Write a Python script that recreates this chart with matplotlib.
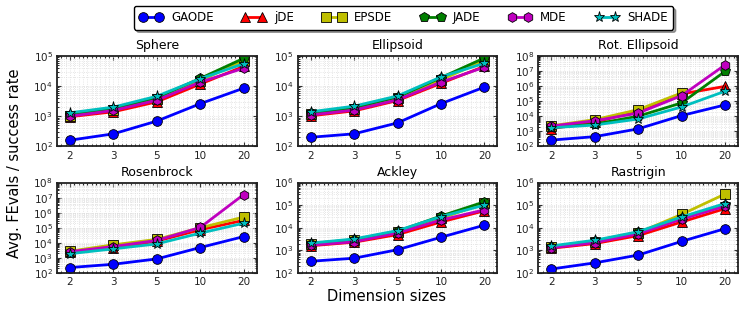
import numpy as np
import matplotlib
matplotlib.use("Agg")
import matplotlib.pyplot as plt
from matplotlib.ticker import LogLocator, MultipleLocator, NullFormatter

# Benchmarks, dimensions and the measured curves (Avg. FEvals / success rate)
functions = ["Sphere", "Ellipsoid", "Rot. Ellipsoid", "Rosenbrock", "Ackley", "Rastrigin"]
dims = ["2", "3", "5", "10", "20"]
ylims = [(1e2, 1e5), (1e2, 1e5), (1e2, 1e8), (1e2, 1e8), (1e2, 1e6), (1e2, 1e6)]

nan = np.nan
gaode = [
    [160, 260, 690, 2600, 8500],
    [200, 260, 600, 2600, 9200],
    [260, 440, 1450, 11000, 56000],
    [230, 380, 860, 4900, 26000],
    [330, 450, 1070, 3800, 13000],
    [150, 280, 620, 2500, 9100],
]
jde = [
    [960, 1400, 3000, 11600, 45000],
    [1030, 1500, 3300, 12300, 45000],
    [1500, 4000, 22000, 3.0e5, 9.5e5],
    [2300, 4500, 13000, 74000, 3.1e5],
    [1600, 2300, 5000, 18000, 56000],
    [1240, 2000, 4500, 18000, 70000],
]
epsde = [
    [1050, 1650, 3700, 15000, 70000],
    [1150, 1750, 3900, 16000, 70000],
    [2300, 5900, 27000, 3.5e5, nan],
    [2800, 7400, 17000, 1.0e5, 5.1e5],
    [1900, 2800, 6200, 26000, 1.2e5],
    [1400, 2400, 6000, 39000, 3.1e5],
]
jade = [
    [1100, 1800, 4100, 18000, 83000],
    [1250, 1900, 4300, 19000, 85000],
    [1800, 3000, 10000, 76000, 9.3e6],
    [nan, nan, nan, nan, nan],
    [2000, 3000, 7000, 33000, 1.4e5],
    [1450, 2600, 6300, 27000, 1.05e5],
]
mde = [
    [1000, 1550, 3400, 13500, 39000],
    [1100, 1600, 3500, 13500, 42000],
    [2200, 5000, 16000, 2.3e5, 2.5e7],
    [2600, 5700, 14500, 1.05e5, 1.6e7],
    [1700, 2400, 5900, 22000, 62000],
    [1300, 2200, 5400, 24000, 90000],
]
shade = [
    [1300, 2000, 4600, 17500, 55000],
    [1400, 2150, 4700, 20000, 57000],
    [1700, 2600, 6500, 41000, 4.5e5],
    [1900, 4000, 8500, 44000, 2.0e5],
    [2100, 3200, 7500, 31000, 1.0e5],
    [1580, 2800, 6700, 30000, 1.18e5],
]

algorithms = ["GAODE", "jDE", "EPSDE", "JADE", "MDE", "SHADE"]
series = [gaode, jde, epsde, jade, mde, shade]
colors = ["#0000ff", "#ff0000", "#bfbf00", "#007f00", "#bf00bf", "#00bfbf"]
markers = ["o", "^", "s", "p", "h", "*"]
msizes = [7, 7, 7, 7, 7, 8]

plt.rcParams["xtick.direction"] = "in"
plt.rcParams["ytick.direction"] = "in"
plt.rcParams["xtick.top"] = True
plt.rcParams["ytick.right"] = True

fig, axes = plt.subplots(2, 3, figsize=(7.47, 3.14), dpi=100)
fig.subplots_adjust(left=0.0763, right=0.988, top=0.822, bottom=0.1306,
                    wspace=0.205, hspace=0.4)

x = np.arange(len(dims))
handles = []
for i, ax in enumerate(axes.flat):
    for s, name, c, m, ms in zip(series, algorithms, colors, markers, msizes):
        (h,) = ax.plot(x, s[i], color=c, marker=m, markersize=ms, lw=2,
                       markeredgecolor="k", markeredgewidth=0.6, label=name)
        if i == 0:
            handles.append(h)
    ax.set_yscale("log")
    ax.set_ylim(*ylims[i])
    ax.set_xlim(-0.3, 4.3)
    ax.set_xticks(x)
    ax.set_xticklabels(dims)
    ax.xaxis.set_minor_locator(MultipleLocator(0.1))
    ax.yaxis.set_major_locator(LogLocator(base=10, numticks=10))
    ax.yaxis.set_minor_locator(LogLocator(base=10, subs=np.arange(2, 10), numticks=20))
    ax.yaxis.set_minor_formatter(NullFormatter())
    ax.tick_params(labelsize=7.5, length=3, pad=3, colors="#333333", labelcolor="#222222")
    ax.tick_params(which="minor", length=1.5)
    ax.grid(True, which="both", color="#dddddd", ls=":", lw=0.6)
    ax.set_axisbelow(True)
    for sp in ax.spines.values():
        sp.set_linewidth(1.3)
        sp.set_color("#222222")
    ax.set_title(functions[i], fontsize=9, pad=5)

fig.legend(handles, algorithms, loc="upper center", bbox_to_anchor=(0.54, 1.0),
           ncol=6, fontsize=8.5, numpoints=2, shadow=True, fancybox=True,
           framealpha=1, edgecolor="k", handlelength=2.0, columnspacing=2.4,
           borderpad=0.45, handletextpad=0.7)

fig.text(0.02, 0.48, "Avg. FEvals / success rate", rotation=90, ha="center",
         va="center", fontsize=10.5)
fig.text(0.518, 0.055, "Dimension sizes", ha="center", va="center", fontsize=10.5)

fig.savefig("out.png", dpi=100)
